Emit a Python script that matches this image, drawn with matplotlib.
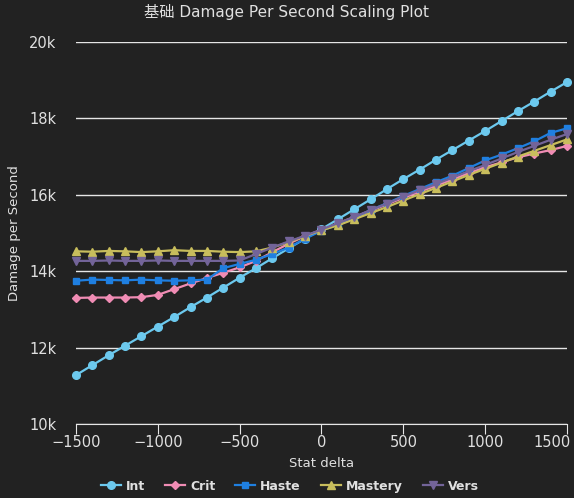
import numpy as np
import matplotlib
matplotlib.use("Agg")
import matplotlib.pyplot as plt
from matplotlib.ticker import FuncFormatter

# ---------------- DATA ----------------
stat_delta = list(range(-1500, 1501, 100))

int_dps = [11.28, 11.54, 11.80, 12.05, 12.30, 12.55, 12.80, 13.06, 13.31, 13.57,
           13.83, 14.08, 14.34, 14.60, 14.85, 15.10, 15.36, 15.62, 15.88, 16.15,
           16.41, 16.66, 16.92, 17.17, 17.42, 17.67, 17.93, 18.19, 18.44, 18.70, 18.95]
crit_dps = [13.30, 13.31, 13.31, 13.31, 13.32, 13.38, 13.53, 13.68, 13.82, 13.96,
            14.10, 14.27, 14.50, 14.72, 14.92, 15.08, 15.25, 15.42, 15.58, 15.75,
            15.92, 16.08, 16.24, 16.40, 16.57, 16.72, 16.85, 16.98, 17.08, 17.17, 17.28]
haste_dps = [13.75, 13.78, 13.77, 13.76, 13.78, 13.76, 13.75, 13.76, 13.78, 14.08,
             14.19, 14.30, 14.45, 14.62, 14.85, 15.06, 15.22, 15.40, 15.60, 15.78,
             15.97, 16.15, 16.33, 16.50, 16.70, 16.90, 17.05, 17.22, 17.40, 17.62, 17.74]
mastery_dps = [14.52, 14.51, 14.53, 14.52, 14.50, 14.52, 14.55, 14.53, 14.53, 14.51,
               14.50, 14.52, 14.62, 14.76, 14.92, 15.07, 15.20, 15.36, 15.52, 15.68,
               15.85, 16.02, 16.18, 16.35, 16.52, 16.68, 16.84, 17.00, 17.15, 17.30, 17.45]
vers_dps = [14.27, 14.27, 14.28, 14.27, 14.27, 14.28, 14.27, 14.27, 14.27, 14.27,
            14.28, 14.45, 14.62, 14.78, 14.93, 15.09, 15.26, 15.42, 15.60, 15.77,
            15.95, 16.12, 16.28, 16.45, 16.62, 16.78, 16.95, 17.12, 17.28, 17.44, 17.59]

series_names = ["Int", "Crit", "Haste", "Mastery", "Vers"]
series_values = [int_dps, crit_dps, haste_dps, mastery_dps, vers_dps]
series_colors = ["#6cc9ee", "#f08cb4", "#1f7fe0", "#c8bd5c", "#736499"]
series_markers = ["o", "D", "s", "^", "v"]
marker_sizes = [5.5, 4.0, 5.0, 5.5, 5.5]

y_ticks = [10, 12, 14, 16, 18, 20]
x_ticks = [-1500, -1000, -500, 0, 500, 1000, 1500]

BG = "#222222"
TXT = "#e0e0e0"

# ---------------- PLOT ----------------
fig = plt.figure(figsize=(5.74, 4.98), dpi=100, facecolor=BG)
ax = fig.add_axes([0.1324, 0.1486, 0.8554, 0.7671], facecolor=BG)

for name, vals, col, mk, ms in zip(series_names, series_values, series_colors,
                                   series_markers, marker_sizes):
    ax.plot(stat_delta, [v * 1000 for v in vals], color=col, marker=mk,
            markersize=ms, linewidth=1.6, label=name, clip_on=False, zorder=3)

ax.set_xlim(-1500, 1500)
ax.set_ylim(10000, 20000)
ax.set_yticks([t * 1000 for t in y_ticks])
ax.set_xticks(x_ticks)
ax.yaxis.set_major_formatter(FuncFormatter(lambda v, p: f"{int(v / 1000)}k"))

ax.grid(axis="y", color="#e6e6e6", linewidth=1.0)
ax.set_axisbelow(True)
for s in ["top", "right", "left"]:
    ax.spines[s].set_visible(False)
ax.spines["bottom"].set_color("#e6e6e6")
ax.spines["bottom"].set_zorder(1)

ax.tick_params(axis="y", length=0, colors=TXT, labelsize=10.5, pad=14)
ax.tick_params(axis="x", length=7, color="#e6e6e6", colors=TXT, labelsize=10.5, pad=1)

# keep the last x label inside the frame, like the original chart
fig.canvas.draw()
last_lbl = ax.get_xticklabels()[-1]
last_lbl.set_horizontalalignment("right")
last_lbl.set_x(1500)
import matplotlib.transforms as mtrans
last_lbl.set_transform(last_lbl.get_transform() +
                       mtrans.ScaledTranslation(4 / 100, 0, fig.dpi_scale_trans))

ax.set_xlabel("Stat delta", color=TXT, fontsize=9.5, labelpad=5)
ax.set_ylabel("Damage per Second", color=TXT, fontsize=9.5, labelpad=6)

fig.suptitle("基础 Damage Per Second Scaling Plot", color=TXT, fontsize=11,
             y=0.992, family=["DejaVu Sans", "Noto Sans CJK SC"])

leg = fig.legend(loc="lower center", bbox_to_anchor=(0.505, -0.012), ncol=5,
                 frameon=False, fontsize=9, handlelength=1.6, columnspacing=1.6,
                 handletextpad=0.4)
for t in leg.get_texts():
    t.set_color(TXT)
    t.set_fontweight("bold")

fig.savefig("out.png", dpi=100, facecolor=BG)
